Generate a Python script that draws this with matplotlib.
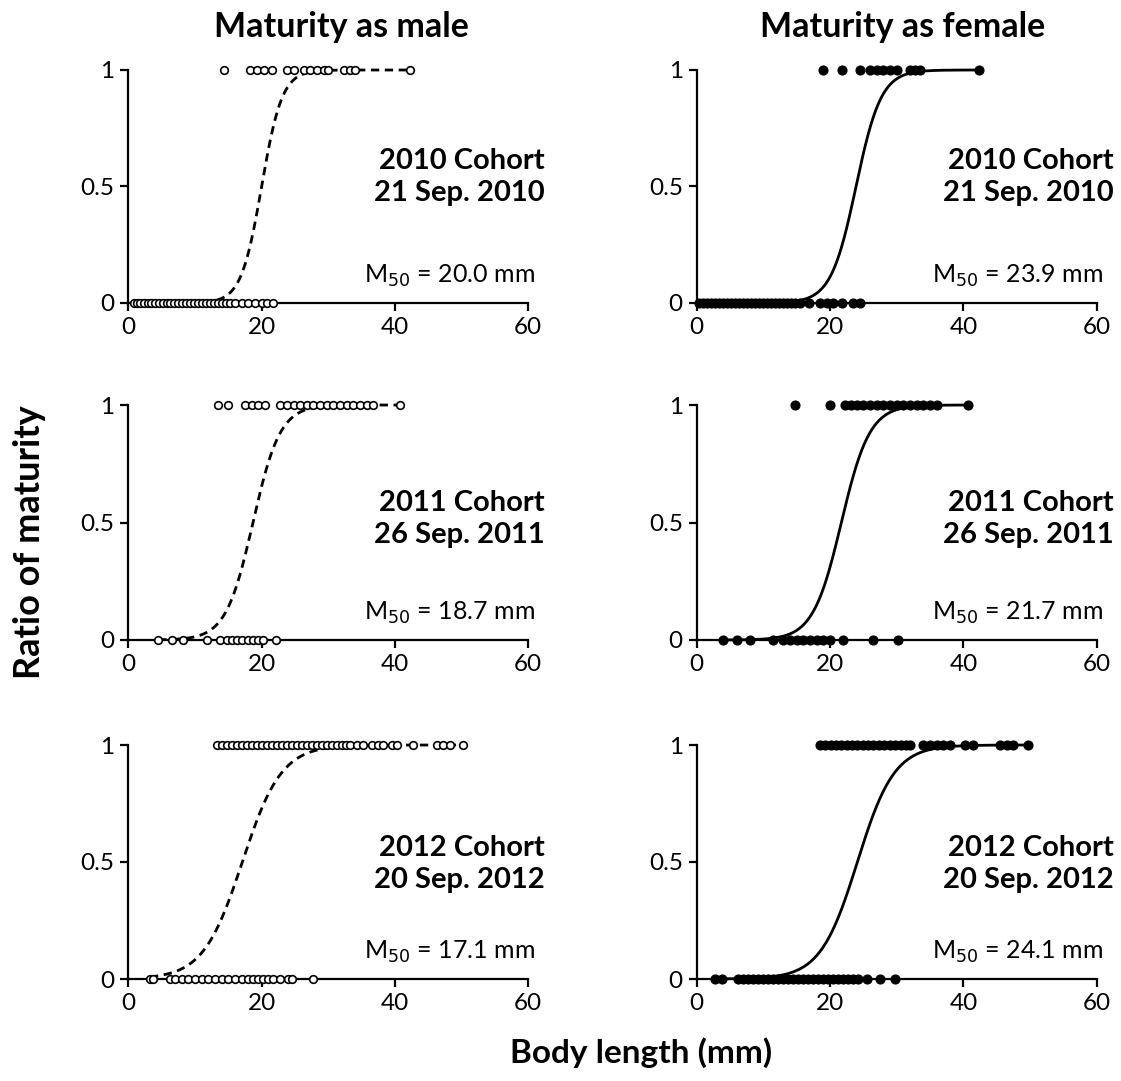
import numpy as np
import matplotlib.pyplot as plt

plt.rcParams['font.family'] = ['Lato', 'DejaVu Sans']

# body length (mm) of mature (1) and immature (0) individuals, per cohort
male_2010_mature = [14.4, 18.3, 19.3, 20.3, 21.5, 23.8, 24.8, 26.3, 27.3, 28.3, 29.3, 30.0,
                    32.3, 33.3, 34.0, 42.3]
male_2010_immature = [0.8, 1.3, 1.8, 2.3, 2.9, 3.4, 4.0, 4.6, 5.2, 5.8, 6.3, 6.9, 7.5, 8.1,
                      8.7, 9.3, 9.9, 10.5, 11.1, 11.7, 12.3, 12.9, 13.5, 14.1, 14.7, 15.3,
                      16.0, 17.0, 18.0, 19.0, 20.0, 20.8, 21.7]
female_2010_mature = [19.0, 21.8, 24.5, 26.0, 27.0, 28.0, 29.0, 30.0, 32.0, 32.8, 33.5, 42.3]
female_2010_immature = [0.3, 0.9, 1.5, 2.1, 2.7, 3.3, 3.9, 4.5, 5.1, 5.7, 6.3, 6.9, 7.5, 8.1,
                        8.7, 9.3, 9.9, 10.5, 11.1, 11.7, 12.3, 12.9, 13.5, 14.1, 14.7, 15.5,
                        16.8, 18.5, 19.5, 20.5, 21.8, 23.5, 24.5]

male_2011_mature = [13.5, 15.0, 17.5, 18.5, 19.5, 20.5, 22.75, 23.8, 24.8, 25.75, 26.8, 27.75,
                    28.75, 29.8, 30.75, 31.75, 32.8, 33.75, 34.75, 35.8, 36.75, 40.75]
male_2011_immature = [4.5, 6.5, 8.25, 11.85, 13.75, 14.75, 15.5, 16.25, 17.0, 18.0, 18.75,
                      19.5, 20.25, 22.15]
female_2011_mature = [14.7, 20.0, 22.2, 23.2, 24.0, 25.0, 26.0, 27.0, 28.0, 29.0, 30.0, 31.0,
                      32.0, 33.0, 34.0, 35.0, 36.0, 40.75]
female_2011_immature = [4.0, 6.1, 8.0, 11.5, 13.0, 14.0, 15.0, 16.0, 17.0, 18.0, 19.0, 20.0,
                        22.0, 26.5, 30.25]

male_2012_mature = [13.25, 14.0, 14.75, 15.5, 16.25, 17.0, 17.75, 18.5, 19.25, 20.0, 20.75,
                    21.5, 22.25, 23.0, 23.75, 24.5, 25.25, 26.0, 26.75, 27.5, 28.25, 29.0,
                    29.75, 30.5, 31.25, 32.0, 32.6, 33.25, 34.25, 35.25, 36.5, 37.5, 38.25,
                    39.5, 40.25, 42.75, 46.25, 47.25, 48.25, 50.25]
male_2012_immature = [3.25, 3.75, 6.25, 7.0, 8.0, 9.0, 10.0, 11.0, 12.0, 13.0, 14.0, 15.0,
                      16.0, 17.0, 18.0, 18.75, 19.5, 20.25, 21.0, 21.75, 22.75, 24.0, 24.5,
                      27.75]
female_2012_mature = [18.5, 19.3, 20.1, 20.9, 21.7, 22.5, 23.3, 24.1, 24.9, 25.7, 26.5, 27.3,
                      28.1, 29.0, 29.8, 30.6, 31.4, 32.0, 34.0, 35.0, 36.0, 37.0, 38.0, 40.25,
                      41.5, 45.5, 46.5, 47.5, 49.75]
female_2012_immature = [2.75, 3.75, 6.25, 7.0, 7.75, 8.5, 9.25, 10.0, 10.75, 11.5, 12.25,
                        13.0, 13.75, 14.5, 15.25, 16.0, 16.75, 17.5, 18.25, 19.0, 19.75, 20.5,
                        21.25, 22.0, 22.75, 23.5, 24.25, 25.5, 27.5, 29.75]

# fitted logistic curves: M50 (mm) and slope
m50_male = [20.0, 18.7, 17.1]
m50_female = [23.9, 21.7, 24.1]
slope_male = [0.65, 0.49, 0.34]
slope_female = [0.53, 0.47, 0.36]

cohorts = ['2010 Cohort\n21 Sep. 2010', '2011 Cohort\n26 Sep. 2011', '2012 Cohort\n20 Sep. 2012']
male_data = [(male_2010_mature, male_2010_immature),
             (male_2011_mature, male_2011_immature),
             (male_2012_mature, male_2012_immature)]
female_data = [(female_2010_mature, female_2010_immature),
               (female_2011_mature, female_2011_immature),
               (female_2012_mature, female_2012_immature)]

W, H = 1121, 1081
fig = plt.figure(figsize=(W / 100, H / 100), dpi=100)

col_x = [128.3, 696.7]
col_w = 400
row_y = [(70, 303), (405, 640), (745, 979)]
cohort_y = [0.54, 0.515, 0.492]


def logistic(x, m50, k):
    return 1.0 / (1.0 + np.exp(-k * (x - m50)))


def draw_panel(ax, mature, immature, m50, k, female, cohort, ty):
    xs = np.linspace(min(immature), max(mature), 300)
    ax.plot(xs, logistic(xs, m50, k), color='black', lw=2,
            ls='-' if female else (0, (3, 2)), zorder=2, clip_on=False)
    if female:
        kw = dict(marker='o', ms=6.5, mfc='black', mec='black', mew=0.8)
    else:
        kw = dict(marker='o', ms=5.5, mfc='white', mec='black', mew=1.2)
    ax.plot(mature, np.ones(len(mature)), ls='none', zorder=3, clip_on=False, **kw)
    ax.plot(immature, np.zeros(len(immature)), ls='none', zorder=3, clip_on=False, **kw)

    ax.set_xlim(0, 60)
    ax.set_ylim(0, 1)
    ax.set_xticks([0, 20, 40, 60])
    ax.set_yticks([0, 0.5, 1])
    ax.set_yticklabels(['0', '0.5', '1'])
    for s in ['top', 'right']:
        ax.spines[s].set_visible(False)
    for s in ['left', 'bottom']:
        ax.spines[s].set_linewidth(1.6)
    ax.tick_params(direction='out', length=6, width=1.6, labelsize=17.5, pad=4)

    ax.text(62.5, ty, cohort, ha='right', va='center', fontsize=21,
            fontweight='bold', linespacing=1.3, clip_on=False)
    ax.text(61.0, 0.115, 'M$_{50}$ = %.1f mm' % m50, ha='right', va='center',
            fontsize=18, clip_on=False)


for row in range(3):
    top, bot = row_y[row]
    for col in range(2):
        ax = fig.add_axes([col_x[col] / W, 1 - bot / H, col_w / W, (bot - top) / H])
        if col == 0:
            mature, immature = male_data[row]
            draw_panel(ax, mature, immature, m50_male[row], slope_male[row], False,
                       cohorts[row], cohort_y[row])
        else:
            mature, immature = female_data[row]
            draw_panel(ax, mature, immature, m50_female[row], slope_female[row], True,
                       cohorts[row], cohort_y[row])

fig.text(341 / W, 1 - 27 / H, 'Maturity as male', ha='center', va='center',
         fontsize=24.5, fontweight='bold')
fig.text(903 / W, 1 - 27 / H, 'Maturity as female', ha='center', va='center',
         fontsize=24.5, fontweight='bold')
fig.text(30 / W, 1 - 542 / H, 'Ratio of maturity', ha='center', va='center',
         rotation=90, fontsize=26, fontweight='bold')
fig.text(641 / W, 1 - 1053 / H, 'Body length (mm)', ha='center', va='center',
         fontsize=24, fontweight='bold')

fig.savefig('out.png', dpi=100)
